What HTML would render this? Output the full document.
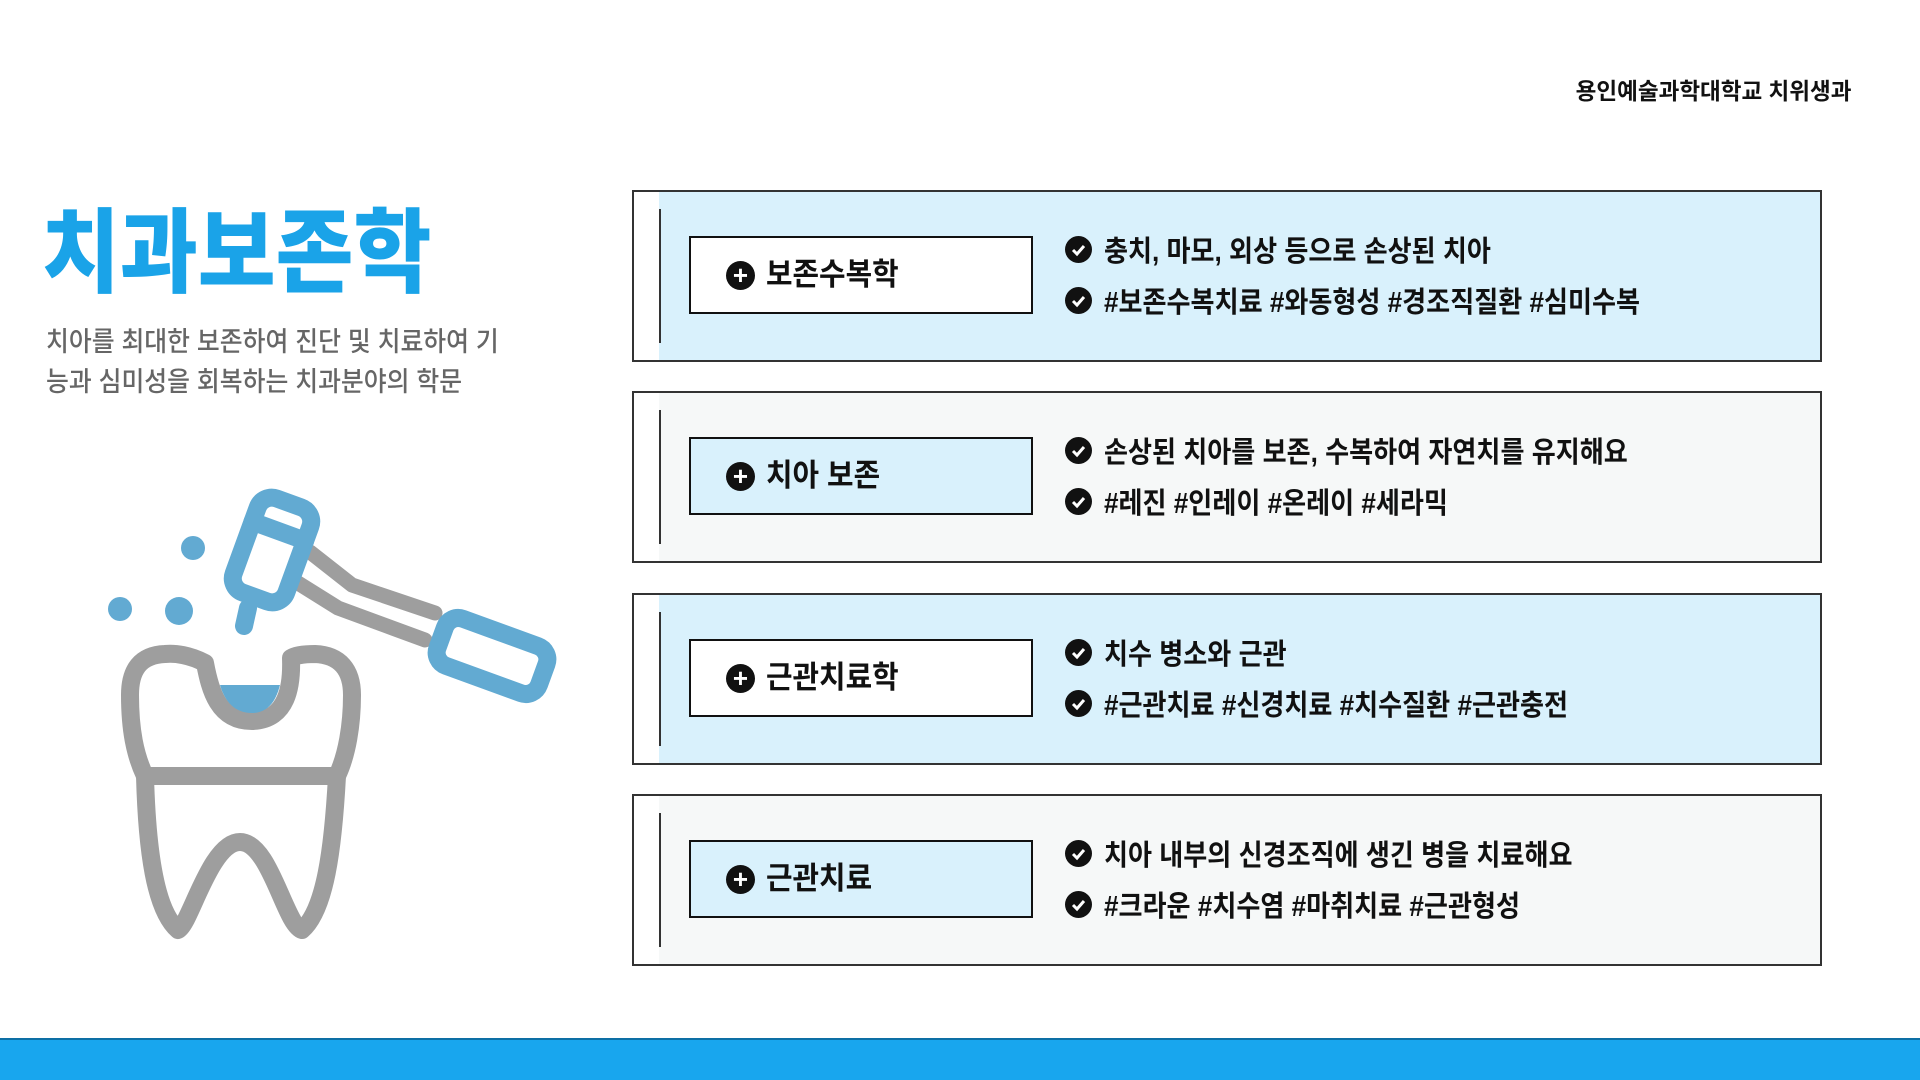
<!DOCTYPE html>
<html><head><meta charset="utf-8">
<style>
*{margin:0;padding:0;box-sizing:border-box}
body{width:1920px;height:1080px;background:#fff;position:relative;overflow:hidden;font-family:"Liberation Sans","Noto Sans CJK KR",sans-serif}
.abs{position:absolute}
.cx{display:inline-block;transform:scaleX(0.9);transform-origin:left center;white-space:nowrap}
.box{position:absolute;left:632px;width:1190px;height:172px;border:2px solid #333}
.box .fill{position:absolute;left:25px;top:0;right:0;bottom:0}
.box .vl{position:absolute;left:25px;top:17px;bottom:17px;width:2px;background:#333}
.lab{position:absolute;left:55px;top:44px;width:344px;height:78px;border:2px solid #111;background:#fff}
.plus{position:absolute;left:35px;top:23px;width:29px;height:29px;border-radius:50%;background:#111;color:#fff;font-size:26px;line-height:28px;text-align:center;font-weight:bold}
.lt{position:absolute;left:75px;top:11px;font-size:31px;font-weight:bold;color:#111}
.lt .cx{transform:scaleX(0.93)}
.chk{position:absolute;left:431px;width:27px;height:27px;border-radius:50%;background:#111}
.chk svg{position:absolute;left:0;top:0}
.it{position:absolute;left:470px;font-size:29px;font-weight:bold;color:#111}
</style></head><body>
<div class="abs" style="right:69px;top:72px;font-size:23px;font-weight:bold;color:#111"><span class="cx" style="transform:scaleX(0.98);transform-origin:right center">용인예술과학대학교 치위생과</span></div>
<div class="abs" style="left:42px;top:208px;font-size:92px;font-weight:900;color:#1aa3e8;line-height:1"><span class="cx" style="transform:scaleX(0.92)">치과보존학</span></div>
<div class="abs" style="left:46px;top:322px;font-size:27px;font-weight:500;color:#666;line-height:40px"><span class="cx" style="transform:scaleX(0.92)">치아를 최대한 보존하여 진단 및 치료하여 기</span><br><span class="cx" style="transform:scaleX(0.92)">능과 심미성을 회복하는 치과분야의 학문</span></div>

<svg class="abs" style="left:80px;top:470px" width="500" height="480" viewBox="0 0 500 480">
<g fill="none" stroke="#9e9e9e" stroke-width="18" stroke-linejoin="round" stroke-linecap="round">
<path d="M125,193 C110,185 95,183 85,184 C60,185 50,200 50,225 C50,260 55,285 65,306 L257,306 C267,285 272,255 272,225 C272,200 260,185 235,184 C222,184 214,186 211,188 C212,215 208,250 172,251 C138,251 130,220 125,193 Z"/>
<path d="M65,306 C67,380 75,440 98,460 C110,455 130,372 160,372 C190,372 205,455 222,460 C245,440 253,380 257,306"/>
</g>
<g fill="none" stroke="#9e9e9e" stroke-width="15" stroke-linejoin="round" stroke-linecap="round">
<path d="M230,82 L272,115 L355,143"/>
<path d="M218,113 L258,138 L345,170"/>
</g>
<path d="M140,215 L200,215 C195,235 185,243 172,243 C155,243 145,232 140,215 Z" fill="#62aad2"/>
<g fill="none" stroke="#62aad2" stroke-width="18" stroke-linecap="round">
<rect x="-28" y="-50" width="56" height="100" rx="15" transform="translate(192,80) rotate(20)"/>
<line x1="-28" y1="-20" x2="28" y2="-20" transform="translate(192,80) rotate(20)"/>
<line x1="168" y1="138" x2="164" y2="156"/>
<rect x="-54" y="-25" width="108" height="50" rx="14" transform="translate(412,186) rotate(20)" fill="#fff"/>
</g>
<g fill="#62aad2"><circle cx="113" cy="78" r="12"/><circle cx="40" cy="139" r="12"/><circle cx="99" cy="141" r="14"/></g>
</svg>

<div class="box" style="top:190px"><div class="fill" style="background:#d9f1fc"></div><div class="vl"></div>
<div class="lab"><div class="plus">+</div><div class="lt"><span class="cx">보존수복학</span></div></div>
<div class="chk" style="top:44px"><svg width="27" height="27"><path d="M8,14 L12,18 L19,10" stroke="#fff" stroke-width="3" fill="none"/></svg></div>
<div class="it" style="top:36px"><span class="cx">충치, 마모, 외상 등으로 손상된 치아</span></div>
<div class="chk" style="top:95px"><svg width="27" height="27"><path d="M8,14 L12,18 L19,10" stroke="#fff" stroke-width="3" fill="none"/></svg></div>
<div class="it" style="top:87px"><span class="cx">#보존수복치료 #와동형성 #경조직질환 #심미수복</span></div>
</div>

<div class="box" style="top:391px"><div class="fill" style="background:#f6f8f8"></div><div class="vl"></div>
<div class="lab" style="background:#d9f1fc"><div class="plus">+</div><div class="lt"><span class="cx">치아 보존</span></div></div>
<div class="chk" style="top:44px"><svg width="27" height="27"><path d="M8,14 L12,18 L19,10" stroke="#fff" stroke-width="3" fill="none"/></svg></div>
<div class="it" style="top:36px"><span class="cx">손상된 치아를 보존, 수복하여 자연치를 유지해요</span></div>
<div class="chk" style="top:95px"><svg width="27" height="27"><path d="M8,14 L12,18 L19,10" stroke="#fff" stroke-width="3" fill="none"/></svg></div>
<div class="it" style="top:87px"><span class="cx">#레진 #인레이 #온레이 #세라믹</span></div>
</div>

<div class="box" style="top:593px"><div class="fill" style="background:#d9f1fc"></div><div class="vl"></div>
<div class="lab"><div class="plus">+</div><div class="lt"><span class="cx">근관치료학</span></div></div>
<div class="chk" style="top:44px"><svg width="27" height="27"><path d="M8,14 L12,18 L19,10" stroke="#fff" stroke-width="3" fill="none"/></svg></div>
<div class="it" style="top:36px"><span class="cx">치수 병소와 근관</span></div>
<div class="chk" style="top:95px"><svg width="27" height="27"><path d="M8,14 L12,18 L19,10" stroke="#fff" stroke-width="3" fill="none"/></svg></div>
<div class="it" style="top:87px"><span class="cx">#근관치료 #신경치료 #치수질환 #근관충전</span></div>
</div>

<div class="box" style="top:794px"><div class="fill" style="background:#f6f8f8"></div><div class="vl"></div>
<div class="lab" style="background:#d9f1fc"><div class="plus">+</div><div class="lt"><span class="cx">근관치료</span></div></div>
<div class="chk" style="top:44px"><svg width="27" height="27"><path d="M8,14 L12,18 L19,10" stroke="#fff" stroke-width="3" fill="none"/></svg></div>
<div class="it" style="top:36px"><span class="cx">치아 내부의 신경조직에 생긴 병을 치료해요</span></div>
<div class="chk" style="top:95px"><svg width="27" height="27"><path d="M8,14 L12,18 L19,10" stroke="#fff" stroke-width="3" fill="none"/></svg></div>
<div class="it" style="top:87px"><span class="cx">#크라운 #치수염 #마취치료 #근관형성</span></div>
</div>

<div class="abs" style="left:0;top:1038px;width:1920px;height:42px;background:#18a6ee;border-top:2px solid #0d6fa5"></div>
</body></html>
